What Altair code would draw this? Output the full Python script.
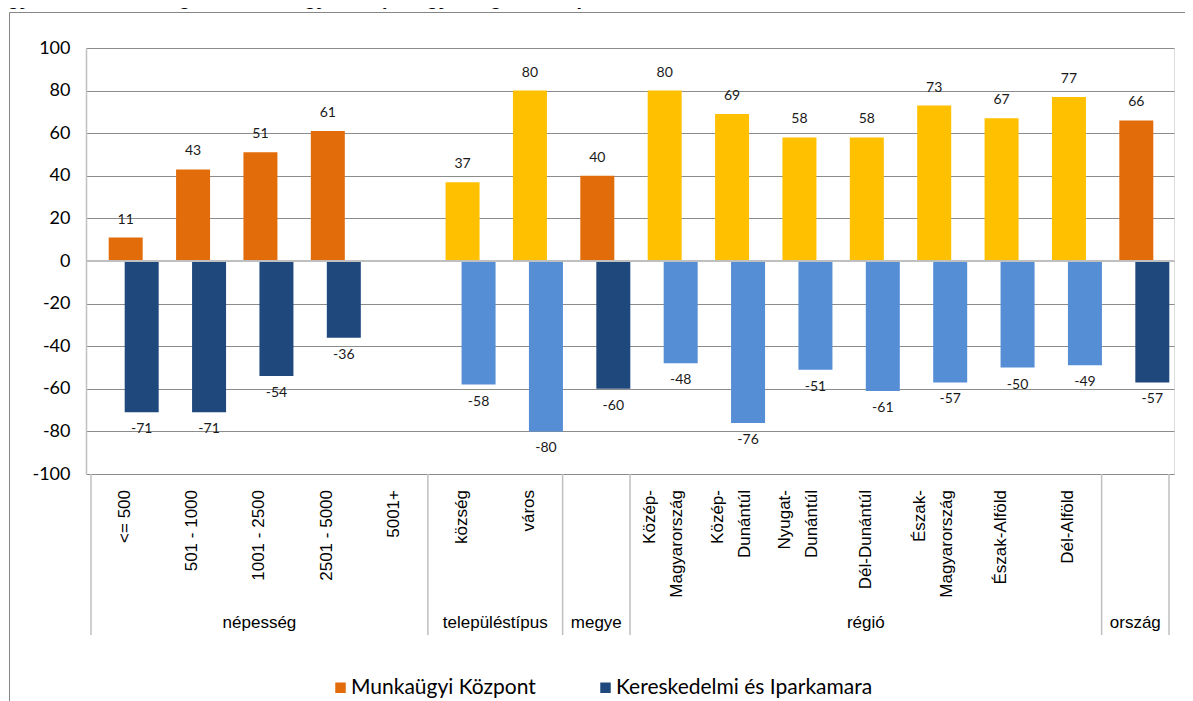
import altair as alt
import pandas as pd

# ---- data ----
categories = ["<= 500", "501 - 1000", "1001 - 2500", "2501 - 5000", "5001+",
              "község", "város", "",
              "Közép-\nMagyarország", "Közép-\nDunántúl", "Nyugat-\nDunántúl", "Dél-Dunántúl",
              "Észak-\nMagyarország", "Észak-Alföld", "Dél-Alföld", ""]
group_names = ["népesség", "településtípus", "megye", "régió", "ország"]
group_sizes = [5, 2, 1, 7, 1]
munkaugyi = [11, 43, 51, 61, None, 37, 80, 40, 80, 69, 58, 58, 73, 67, 77, 66]
kamara = [-71, -71, -54, -36, None, -58, -80, -60, -48, -76, -51, -61, -57, -50, -49, -57]
series = ["Munkaügyi Központ", "Kereskedelmi és Iparkamara"]
title_text = "Együttműködés megítélése a megyében (%, egyenleg értékek)"

# ---- styling ----
ORANGE, YELLOW = "#E36C0A", "#FFC000"
DBLUE, LBLUE = "#1F497D", "#558ED5"
light_groups = {"településtípus", "régió"}

W, H = 1088, 426

grp_of_cat = []
for g, n in zip(group_names, group_sizes):
    grp_of_cat += [g] * n

rows_m, rows_k = [], []
for i, (c, g) in enumerate(zip(categories, grp_of_cat)):
    light = g in light_groups
    rows_m.append({"pos": i + 0.5, "value": munkaugyi[i], "shade": "m_light" if light else "m_dark"})
    rows_k.append({"pos": i + 0.5, "value": kamara[i], "shade": "k_light" if light else "k_dark"})
df_m = pd.DataFrame(rows_m)
df_k = pd.DataFrame(rows_k)

df_cat = pd.DataFrame({"pos": [i + 0.5 for i in range(len(categories))], "label": categories})

bounds = [0]
for n in group_sizes:
    bounds.append(bounds[-1] + n)
df_bounds = pd.DataFrame({"pos": bounds})
df_groups = pd.DataFrame({
    "pos": [(bounds[i] + bounds[i + 1]) / 2 for i in range(len(group_names))],
    "label": group_names,
})

xscale = alt.Scale(domain=[0, len(categories)], nice=False, zero=False)
yscale = alt.Scale(domain=[-100, 100], nice=False)

fill_scale = alt.Scale(domain=["m_dark", "m_light", "k_dark", "k_light"],
                       range=[ORANGE, YELLOW, DBLUE, LBLUE])

yaxis = alt.Axis(values=list(range(-100, 101, 20)), grid=True, gridColor="#8c8c8c", gridWidth=1,
                 domain=True, domainColor="#bfbfbf", domainWidth=1.5, ticks=False, tickSize=0,
                 labelFont="Lato", labelFontSize=18, labelColor="#000000", labelPadding=16,
                 labelExpr="'' + datum.value", title=None)

X = alt.X("pos:Q", scale=xscale, axis=None)

one = pd.DataFrame({"v": [0]})

# outer frame (top and left edges only are visible in the picture)
frame_top = alt.Chart(one).mark_rule(color="#868686", strokeWidth=1).encode(
    x=alt.value(-76.5), x2=alt.value(W + 11), y=alt.value(-35.5))
frame_left = alt.Chart(one).mark_rule(color="#868686", strokeWidth=1).encode(
    x=alt.value(-76.5), y=alt.value(-35.5), y2=alt.value(700))

title = alt.Chart(pd.DataFrame({"t": [title_text]})).mark_text(
    font="Liberation Sans", fontSize=20, fontWeight="bold", align="left", baseline="alphabetic",
    color="#000000"
).encode(x=alt.value(-92), y=alt.value(-43), text="t:N")

bars_m = alt.Chart(df_m).mark_bar(width=34, xOffset=1).encode(
    x=X, y=alt.Y("value:Q", scale=yscale, axis=yaxis),
    fill=alt.Fill("shade:N", scale=fill_scale, legend=None),
)
bars_k = alt.Chart(df_k).mark_bar(width=34, xOffset=17).encode(
    x=X, y=alt.Y("value:Q", scale=yscale),
    fill=alt.Fill("shade:N", scale=fill_scale, legend=None),
)

zero = alt.Chart(one).mark_rule(color="#bfbfbf", strokeWidth=2).encode(
    y=alt.Y("v:Q", scale=yscale))

lab_m = alt.Chart(df_m).transform_filter("isValid(datum.value)").transform_calculate(
    t="'' + datum.value"
).mark_text(
    font="Lato", fontSize=14, color="#1a1a1a", xOffset=1, dy=-18, baseline="middle"
).encode(x=X, y=alt.Y("value:Q", scale=yscale), text="t:N")
lab_k = alt.Chart(df_k).transform_filter("isValid(datum.value)").transform_calculate(
    t="'' + datum.value"
).mark_text(
    font="Lato", fontSize=14, color="#1a1a1a", xOffset=17, dy=17, baseline="middle"
).encode(x=X, y=alt.Y("value:Q", scale=yscale), text="t:N")

dividers = alt.Chart(df_bounds).mark_rule(color="#bfbfbf", strokeWidth=1.5).encode(
    x=X, y=alt.value(H), y2=alt.value(H + 161))

cat_base = alt.Chart(df_cat).transform_calculate(
    lines="split(datum.label, '\\n')", n="length(split(datum.label, '\\n'))"
)
cat_single = cat_base.transform_filter("datum.n == 1").mark_text(
    font="Liberation Sans", fontSize=17, angle=270, align="right", baseline="middle",
    color="#000000"
).encode(x=X, y=alt.value(H + 16), text="label:N")
cat_multi = cat_base.transform_filter("datum.n > 1").mark_text(
    font="Liberation Sans", fontSize=17, angle=270, align="right", baseline="middle",
    lineHeight=27, dy=-13.5, color="#000000"
).encode(x=X, y=alt.value(H + 16), text="lines:N")

grp_labels = alt.Chart(df_groups).mark_text(
    font="Liberation Sans", fontSize=17, baseline="middle", color="#000000"
).encode(x=X, y=alt.value(H + 149), text="label:N")

legend_layer = alt.Chart(pd.DataFrame({"s": series})).mark_square(opacity=0, size=1).encode(
    x=alt.value(10), y=alt.value(10),
    color=alt.Color("s:N", scale=alt.Scale(domain=series, range=[ORANGE, DBLUE]),
                    legend=alt.Legend(orient="none", legendX=244, legendY=629, direction="horizontal",
                                      title=None, symbolType="square", symbolSize=110,
                                      symbolOpacity=1, symbolStrokeWidth=0,
                                      labelFont="Lato", labelFontSize=21, labelColor="#000000",
                                      labelOffset=0, labelLimit=500, columnPadding=59, padding=0)),
)

chart = alt.layer(frame_top, frame_left, title, bars_m, bars_k, zero, lab_m, lab_k, dividers,
                  cat_single, cat_multi, grp_labels, legend_layer).properties(
    width=W, height=H,
    autosize=alt.AutoSizeParams(type="none"),
    padding={"left": 78, "top": 40, "right": 11, "bottom": 227},
).configure_view(stroke=None).configure(background="white")

chart.save("out.html", embed_options={"renderer": "svg", "actions": False})
